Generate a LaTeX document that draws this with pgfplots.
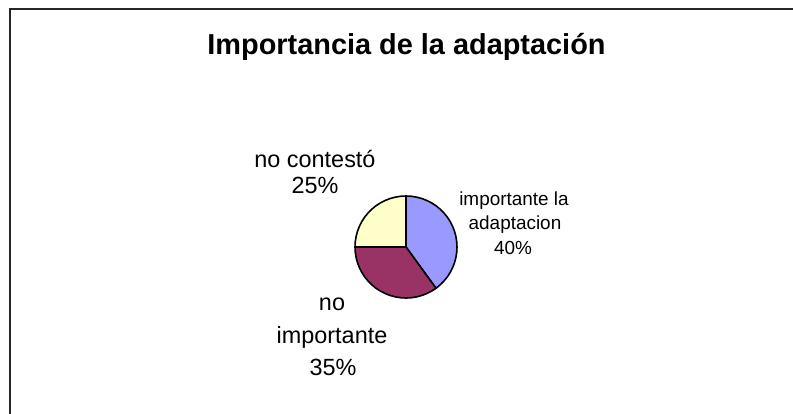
\documentclass[border=0pt]{standalone}
\usepackage{pgfplots}
\pgfplotsset{compat=1.18}
\usepgfplotslibrary{polar}
\usepackage{fontspec}
\setmainfont{Liberation Sans}
\definecolor{sliceA}{HTML}{9999FF}
\definecolor{sliceB}{HTML}{993366}
\definecolor{sliceC}{HTML}{FFFFCC}
\begin{document}
\begin{tikzpicture}
\useasboundingbox (0,0) rectangle (793bp,-414bp);
\fill[white] (0,0) rectangle (793bp,-414bp);
\draw[line width=1.7bp, black!85] (9.8bp,-414bp) -- (9.8bp,-9.2bp) -- (793bp,-9.2bp);
% title
\node[anchor=base, font=\fontsize{29}{34}\selectfont\bfseries, inner sep=0pt] at (406.5bp,-54bp) {Importancia de la adaptación};
% pie: 40% importante la adaptacion, 35% no importante, 25% no contesto
\begin{polaraxis}[
  at={(406bp,-247bp)}, anchor=center,
  hide axis, scale only axis, width=102bp, height=102bp,
  ymin=0, ymax=51, clip=false]
\addplot[fill=sliceA, draw=black, line width=1.6bp, line join=round, mark=none] coordinates {
 (0,0) (90,51) (84,51) (78,51) (72,51) (66,51) (60,51) (54,51) (48,51) (42,51) (36,51)
 (30,51) (24,51) (18,51) (12,51) (6,51) (0,51) (-6,51) (-12,51) (-18,51) (-24,51)
 (-30,51) (-36,51) (-42,51) (-48,51) (-54,51)} -- cycle;
\addplot[fill=sliceB, draw=black, line width=1.6bp, line join=round, mark=none] coordinates {
 (0,0) (-54,51) (-60,51) (-66,51) (-72,51) (-78,51) (-84,51) (-90,51) (-96,51) (-102,51)
 (-108,51) (-114,51) (-120,51) (-126,51) (-132,51) (-138,51) (-144,51) (-150,51)
 (-156,51) (-162,51) (-168,51) (-174,51) (-180,51)} -- cycle;
\addplot[fill=sliceC, draw=black, line width=1.6bp, line join=round, mark=none] coordinates {
 (0,0) (180,51) (174,51) (168,51) (162,51) (156,51) (150,51) (144,51) (138,51) (132,51)
 (126,51) (120,51) (114,51) (108,51) (102,51) (96,51) (90,51)} -- cycle;
\end{polaraxis}
% labels
\begin{scope}[every node/.style={anchor=base, inner sep=0pt}]
\node[font=\fontsize{19}{23}\selectfont] at (514bp,-205bp) {importante la};
\node[font=\fontsize{19}{23}\selectfont] at (515bp,-229bp) {adaptacion};
\node[font=\fontsize{19}{23}\selectfont] at (513bp,-254bp) {40\%};
\node[font=\fontsize{23.5}{28}\selectfont] at (315bp,-167bp) {no contestó};
\node[font=\fontsize{23.5}{28}\selectfont] at (315bp,-193bp) {25\%};
\node[font=\fontsize{23.5}{28}\selectfont] at (332bp,-310bp) {no};
\node[font=\fontsize{23.5}{28}\selectfont] at (332bp,-343bp) {importante};
\node[font=\fontsize{23.5}{28}\selectfont] at (333bp,-375bp) {35\%};
\end{scope}
\end{tikzpicture}
\end{document}
